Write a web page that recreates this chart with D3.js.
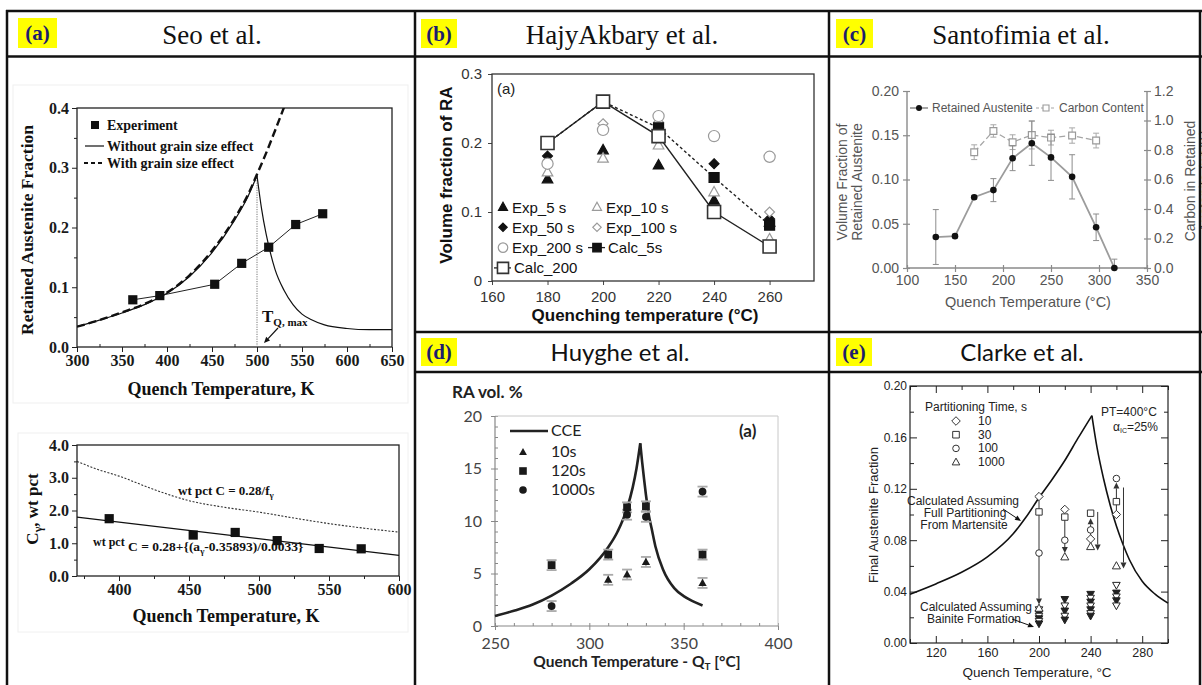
<!DOCTYPE html>
<html>
<head>
<meta charset="utf-8">
<script src="https://cdn.jsdelivr.net/npm/d3@7/dist/d3.min.js"></script>
<style>
  html, body { margin: 0; padding: 0; background: #fff; }
  svg { display: block; }
</style>
</head>
<body>
<svg id="fig" width="1202" height="685"></svg>
<script>
const SERIF = '"Liberation Serif","Times New Roman",Times,serif';
const SANS = '"Liberation Sans",Arial,Helvetica,sans-serif';
const CALI = 'Lato,"Open Sans",sans-serif';

// ---------- (a) Seo et al. : retained austenite fraction ----------
const seoRiseT = [300, 325, 350, 375, 400, 425, 450, 475, 490, 500];
const seoRiseF = [0.034, 0.045, 0.057, 0.071, 0.090, 0.118, 0.158, 0.212, 0.252, 0.287];
const seoFallT = [500, 505, 510, 515, 520, 530, 540, 550, 560, 575, 600, 625, 650];
const seoFallF = [0.287, 0.232, 0.190, 0.157, 0.130, 0.095, 0.071, 0.055, 0.046, 0.037, 0.031, 0.029, 0.029];
const seoGrainT = [300, 325, 350, 375, 400, 425, 450, 475, 490, 500, 510, 520, 531];
const seoGrainF = [0.034, 0.045, 0.058, 0.072, 0.091, 0.120, 0.161, 0.215, 0.255, 0.289, 0.324, 0.362, 0.405];
const seoExpT = [362, 392, 453, 483, 513, 543, 573];
const seoExpF = [0.079, 0.086, 0.105, 0.140, 0.167, 0.205, 0.223];
const seoXTicks = [300, 350, 400, 450, 500, 550, 600, 650];
const seoXMinor = [325, 375, 425, 475, 525, 575, 625];
const seoYTicks = [0, 0.1, 0.2, 0.3, 0.4];
const seoYMinor = [0.05, 0.15, 0.25, 0.35];

// ---------- (a) Seo et al. : carbon in austenite ----------
const seoCarbT = [370, 385, 400, 425, 450, 475, 500, 525, 550, 575, 600];
const seoCarbMass = [3.50, 3.25, 3.05, 2.64, 2.30, 2.10, 1.95, 1.77, 1.60, 1.46, 1.34];
const seoFitT = [370, 600];
const seoFitC = [1.80, 0.63];
const seoCExpT = [393, 453, 483, 513, 543, 573];
const seoCExpC = [1.75, 1.25, 1.33, 1.08, 0.84, 0.83];
const seoCXTicks = [400, 450, 500, 550, 600];
const seoCXMinor = [375, 425, 475, 525, 575];
const seoCYTicks = [0, 1, 2, 3, 4];
const seoCYMinor = [0.5, 1.5, 2.5, 3.5];

// ---------- (b) HajyAkbary et al. ----------
const hajyT = [180, 200, 220, 240, 260];
const hajyExp5 = [0.148, 0.190, 0.168, 0.117, 0.085];
const hajyExp10 = [0.158, 0.178, 0.197, 0.129, 0.061];
const hajyExp50 = [0.181, 0.220, 0.222, 0.170, 0.090];
const hajyExp100 = [0.170, 0.228, 0.230, 0.210, 0.100];
const hajyExp200 = [0.170, 0.219, 0.239, 0.210, 0.180];
const hajyCalc5 = [0.200, 0.260, 0.222, 0.150, 0.081];
const hajyCalc200 = [0.200, 0.260, 0.210, 0.100, 0.050];
const hajyXTicks = [160, 180, 200, 220, 240, 260];
const hajyYTicks = [0, 0.1, 0.2, 0.3];

// ---------- (c) Santofimia et al. ----------
const santT = [130, 150, 170, 190, 210, 230, 250, 272, 297, 316];
const santRA = [0.035, 0.036, 0.080, 0.088, 0.124, 0.141, 0.125, 0.103, 0.046, 0.000];
const santRAErr = [0.031, 0.002, 0.002, 0.013, 0.014, 0.025, 0.026, 0.025, 0.015, 0.010];
const santCT = [170, 190, 210, 230, 250, 272, 297];
const santC = [0.785, 0.929, 0.853, 0.902, 0.884, 0.898, 0.864];
const santCErr = [0.050, 0.042, 0.050, 0.095, 0.050, 0.052, 0.050];
const santXTicks = [100, 150, 200, 250, 300, 350];
const santYTicks = [0, 0.05, 0.10, 0.15, 0.20];
const santY2Ticks = [0, 0.2, 0.4, 0.6, 0.8, 1.0, 1.2];

// ---------- (d) Huyghe et al. ----------
const cceRiseT = [250, 260, 270, 280, 290, 300, 310, 315, 320, 323, 325, 327];
const cceRiseV = [0.95, 1.45, 2.05, 2.9, 4.0, 5.4, 7.5, 9.0, 11.2, 13.2, 15.0, 17.4];
const cceFallT = [327, 328, 329, 330, 331.5, 333, 335, 339, 345, 350, 355, 360];
const cceFallV = [17.4, 15.6, 14.0, 12.5, 10.6, 9.3, 7.6, 5.4, 3.6, 2.85, 2.35, 1.95];
const huy10T = [310, 320, 330, 360];
const huy10V = [4.4, 4.9, 6.1, 4.1];
const huy120T = [280, 310, 320, 330, 360];
const huy120V = [5.8, 6.8, 11.3, 11.4, 6.8];
const huy1000T = [280, 320, 330, 360];
const huy1000V = [1.9, 10.6, 10.4, 12.8];
const huyXTicks = [250, 300, 350, 400];
const huyYTicks = [0, 5, 10, 15, 20];

// ---------- (e) Clarke et al. ----------
const clarkeRiseT = [100, 120, 140, 160, 180, 190, 200, 210, 220, 230, 241];
const clarkeRiseV = [0.038, 0.046, 0.055, 0.067, 0.085, 0.098, 0.113, 0.127, 0.142, 0.159, 0.177];
const clarkeFallT = [241, 245, 250, 255, 260, 265, 270, 280, 290, 300];
const clarkeFallV = [0.177, 0.152, 0.128, 0.108, 0.091, 0.077, 0.065, 0.048, 0.038, 0.031];
const clarkeT = [200, 220, 240, 260];
const clarke10 = [0.114, 0.104, 0.081, 0.100];
const clarke30 = [0.102, 0.098, 0.101, 0.110];
const clarke100 = [0.070, 0.080, 0.088, 0.128];
const clarke1000 = [0.027, 0.067, 0.075, 0.060];
// arrows: [temperature, start, end]
const clarkeArrows = [[200, 0.114, 0.030], [220, 0.098, 0.070], [240, 0.075, 0.097],
                      [260, 0.100, 0.125], [245.5, 0.102, 0.072], [265.5, 0.121, 0.058]];
// bainite estimates: [temperature, fraction, filled]
const clarkeBainite = [
  [200, 0.026, 0], [200, 0.023, 1], [200, 0.021, 0], [200, 0.019, 1], [200, 0.017, 0], [200, 0.015, 1],
  [220, 0.034, 1], [220, 0.029, 0], [220, 0.025, 1], [220, 0.021, 0], [220, 0.018, 1],
  [240, 0.038, 1], [240, 0.035, 0], [240, 0.032, 1], [240, 0.029, 0], [240, 0.026, 1], [240, 0.023, 0], [240, 0.021, 1],
  [260, 0.045, 0], [260, 0.039, 1], [260, 0.036, 0], [260, 0.033, 1], [260, 0.029, 0]
];
const clarkeXTicks = [120, 160, 200, 240, 280];
const clarkeXMinor = [100, 140, 180, 220, 260, 300];
const clarkeYTicks = [0, 0.04, 0.08, 0.12, 0.16, 0.20];
const clarkeYMinor = [0.02, 0.06, 0.10, 0.14, 0.18];

const zip = (a, b) => a.map((v, i) => [v, b[i]]);

const svg = d3.select('#fig');
svg.append('rect').attr('width', 1202).attr('height', 685).attr('fill', '#fff');
const defs = svg.append('defs');

function clip(id, x, y, w, h) {
  defs.append('clipPath').attr('id', id).append('rect')
    .attr('x', x).attr('y', y).attr('width', w).attr('height', h);
  return `url(#${id})`;
}

function txt(g, x, y, s, o = {}) {
  const t = g.append('text').attr('x', x).attr('y', y)
    .attr('font-family', o.ff || SANS).attr('font-size', o.fs || 12)
    .attr('fill', o.fill || '#111').attr('text-anchor', o.anchor || 'start');
  if (o.fw) t.attr('font-weight', o.fw);
  if (o.rot) t.attr('transform', `rotate(${o.rot},${x},${y})`);
  if (typeof s === 'string') t.text(s);
  else s.forEach(p => {
    const ts = t.append('tspan').text(p.t);
    if (p.fs) ts.attr('font-size', p.fs);
    if (p.dy) ts.attr('dy', p.dy);
  });
  return t;
}

function shape(type, r) {
  switch (type) {
    case 'square': return `M${-r},${-r}H${r}V${r}H${-r}Z`;
    case 'diamond': { const q = r * 1.3; return `M0,${-q}L${q},0L0,${q}L${-q},0Z`; }
    case 'triUp': return `M0,${-r * 1.2}L${r * 1.15},${r * 0.85}L${-r * 1.15},${r * 0.85}Z`;
    case 'triDown': return `M0,${r * 1.2}L${r * 1.15},${-r * 0.85}L${-r * 1.15},${-r * 0.85}Z`;
    default: return `M${r},0A${r},${r} 0 1,1 ${-r},0A${r},${r} 0 1,1 ${r},0Z`;
  }
}

function mark(g, type, x, y, r, fill, stroke, sw) {
  return g.append('path').attr('d', shape(type, r))
    .attr('transform', `translate(${x},${y})`)
    .attr('fill', fill).attr('stroke', stroke || 'none').attr('stroke-width', sw || 1);
}

function drawAxis(g, gen, tr, st) {
  const a = g.append('g').attr('transform', tr).call(gen);
  a.select('.domain').remove();
  a.selectAll('.tick line').attr('stroke', st.stroke || '#111').attr('stroke-width', st.sw || 1);
  a.selectAll('.tick text').attr('font-family', st.ff || SANS).attr('font-size', st.fs || 12)
    .attr('font-weight', st.fw || 'normal').attr('fill', st.fill || '#111');
  return a;
}

function arrow(g, x1, y1, x2, y2, o = {}) {
  const len = o.len || 7, wid = o.wid || 3, c = o.c || '#111';
  const ang = Math.atan2(y2 - y1, x2 - x1);
  const bx = x2 - len * Math.cos(ang), by = y2 - len * Math.sin(ang);
  g.append('line').attr('x1', x1).attr('y1', y1).attr('x2', bx).attr('y2', by)
    .attr('stroke', c).attr('stroke-width', o.sw || 1);
  const px = -Math.sin(ang) * wid, py = Math.cos(ang) * wid;
  g.append('path').attr('d', `M${x2},${y2}L${bx + px},${by + py}L${bx - px},${by - py}Z`).attr('fill', c);
}

// ======================= (a) upper chart =======================
{
  const g = svg.append('g');
  const x = d3.scaleLinear().domain([300, 650]).range([77, 392]);
  const y = d3.scaleLinear().domain([0, 0.4]).range([347, 108]);
  g.append('rect').attr('x', 13).attr('y', 85).attr('width', 395).attr('height', 318)
    .attr('fill', 'none').attr('stroke', '#efefef');
  const st = { ff: SERIF, fs: 16, fw: 'bold', fill: '#1a1a1a', stroke: '#222' };
  drawAxis(g, d3.axisBottom(x).tickValues(seoXTicks).tickSize(5).tickPadding(3).tickFormat(d3.format('d')), 'translate(0,347)', st);
  drawAxis(g, d3.axisBottom(x).tickValues(seoXMinor).tickSize(-3).tickFormat(''), 'translate(0,347)', st);
  drawAxis(g, d3.axisLeft(y).tickValues(seoYTicks).tickSize(5).tickPadding(3).tickFormat(d3.format('.1f')), 'translate(77,0)', st);
  drawAxis(g, d3.axisLeft(y).tickValues(seoYMinor).tickSize(3).tickFormat(''), 'translate(77,0)', st);
  g.append('rect').attr('x', 77).attr('y', 108).attr('width', 315).attr('height', 239)
    .attr('fill', 'none').attr('stroke', '#222').attr('stroke-width', 1.3);
  const cp = clip('clipSeoA', 77, 108, 315, 239);
  const curve = d3.line().x(d => x(d[0])).y(d => y(d[1])).curve(d3.curveMonotoneX);
  const straight = d3.line().x(d => x(d[0])).y(d => y(d[1]));

  g.append('line').attr('x1', x(500)).attr('x2', x(500)).attr('y1', y(0)).attr('y2', y(seoRiseF[seoRiseF.length - 1]))
    .attr('stroke', '#777').attr('stroke-width', 1).attr('stroke-dasharray', '1.2,1.2');
  g.append('path').datum(zip(seoGrainT, seoGrainF)).attr('d', curve).attr('clip-path', cp)
    .attr('fill', 'none').attr('stroke', '#111').attr('stroke-width', 2.4).attr('stroke-dasharray', '8,4');
  g.append('path').datum(zip(seoRiseT, seoRiseF)).attr('d', curve).attr('clip-path', cp)
    .attr('fill', 'none').attr('stroke', '#111').attr('stroke-width', 1.2);
  g.append('path').datum(zip(seoFallT, seoFallF)).attr('d', curve).attr('clip-path', cp)
    .attr('fill', 'none').attr('stroke', '#111').attr('stroke-width', 1.2);
  g.append('path').datum(zip(seoExpT, seoExpF)).attr('d', straight)
    .attr('fill', 'none').attr('stroke', '#222').attr('stroke-width', 1);
  seoExpT.forEach((t, i) => mark(g, 'square', x(t), y(seoExpF[i]), 4.6, '#111'));

  // legend
  mark(g, 'square', 95, 125, 4, '#111');
  txt(g, 107, 130, 'Experiment', { ff: SERIF, fs: 14, fw: 'bold' });
  g.append('line').attr('x1', 85).attr('x2', 104).attr('y1', 146).attr('y2', 146).attr('stroke', '#111').attr('stroke-width', 1.2);
  txt(g, 107, 151, 'Without grain size effect', { ff: SERIF, fs: 14, fw: 'bold' });
  g.append('line').attr('x1', 84).attr('x2', 105).attr('y1', 163).attr('y2', 163).attr('stroke', '#111')
    .attr('stroke-width', 2).attr('stroke-dasharray', '4,3');
  txt(g, 107, 168, 'With grain size effect', { ff: SERIF, fs: 14, fw: 'bold' });

  txt(g, 262, 322, [{ t: 'T' }, { t: 'Q, max', fs: 11, dy: 4 }], { ff: SERIF, fs: 17, fw: 'bold' });
  arrow(g, 278, 328, 264, 343, { len: 6, wid: 2.6, sw: 1.2 });

  txt(g, 33, 230, 'Retained Austenite Fraction', { ff: SERIF, fs: 17.5, fw: 'bold', anchor: 'middle', rot: -90 });
  txt(g, 221, 395, 'Quench Temperature, K', { ff: SERIF, fs: 18, fw: 'bold', anchor: 'middle' });
}

// ======================= (a) lower chart =======================
{
  const g = svg.append('g');
  const x = d3.scaleLinear().domain([370, 600]).range([77, 399]);
  const y = d3.scaleLinear().domain([0, 4]).range([576, 445]);
  g.append('rect').attr('x', 18).attr('y', 433).attr('width', 390).attr('height', 199)
    .attr('fill', 'none').attr('stroke', '#f0f0f0');
  const st = { ff: SERIF, fs: 16, fw: 'bold', fill: '#1a1a1a', stroke: '#222' };
  drawAxis(g, d3.axisBottom(x).tickValues(seoCXTicks).tickSize(5).tickPadding(3).tickFormat(d3.format('d')), 'translate(0,576)', st);
  drawAxis(g, d3.axisBottom(x).tickValues(seoCXMinor).tickSize(3).tickFormat(''), 'translate(0,576)', st);
  drawAxis(g, d3.axisLeft(y).tickValues(seoCYTicks).tickSize(5).tickPadding(3).tickFormat(d3.format('.1f')), 'translate(77,0)', st);
  drawAxis(g, d3.axisLeft(y).tickValues(seoCYMinor).tickSize(3).tickFormat(''), 'translate(77,0)', st);
  g.append('rect').attr('x', 77).attr('y', 445).attr('width', 322).attr('height', 131)
    .attr('fill', 'none').attr('stroke', '#222').attr('stroke-width', 1.3);
  const curve = d3.line().x(d => x(d[0])).y(d => y(d[1])).curve(d3.curveMonotoneX);
  const straight = d3.line().x(d => x(d[0])).y(d => y(d[1]));
  g.append('path').datum(zip(seoCarbT, seoCarbMass)).attr('d', curve)
    .attr('fill', 'none').attr('stroke', '#333').attr('stroke-width', 1.1).attr('stroke-dasharray', '2,1.6');
  g.append('path').datum(zip(seoFitT, seoFitC)).attr('d', straight)
    .attr('fill', 'none').attr('stroke', '#111').attr('stroke-width', 1.3);
  seoCExpT.forEach((t, i) => mark(g, 'square', x(t), y(seoCExpC[i]), 4.6, '#111'));

  txt(g, 178, 495, [{ t: 'wt pct C = 0.28/f' }, { t: 'γ', fs: 9, dy: 3 }], { ff: SERIF, fs: 13, fw: 'bold' });
  txt(g, 93, 551, [{ t: 'wt pct', fs: 12, dy: -5 }, { t: ' C = 0.28+{(a', fs: 13.5, dy: 5 }, { t: 'γ', fs: 9, dy: 3 },
                   { t: '-0.35893)/0.0033}', fs: 13.5, dy: -3 }], { ff: SERIF, fs: 13.5, fw: 'bold' });

  txt(g, 38, 509, [{ t: 'C' }, { t: 'γ', fs: 12, dy: 4 }, { t: ', wt pct', dy: -4 }],
      { ff: SERIF, fs: 17, fw: 'bold', anchor: 'middle', rot: -90 });
  txt(g, 226, 622, 'Quench Temperature, K', { ff: SERIF, fs: 18, fw: 'bold', anchor: 'middle' });
}

// ======================= (b) HajyAkbary =======================
{
  const g = svg.append('g');
  const x = d3.scaleLinear().domain([160, 276]).range([492, 814]);
  const y = d3.scaleLinear().domain([0, 0.3]).range([281, 74]);
  const st = { ff: SANS, fs: 15, fill: '#333', stroke: '#444' };
  drawAxis(g, d3.axisBottom(x).tickValues(hajyXTicks).tickSize(4).tickPadding(6).tickFormat(d3.format('d')), 'translate(0,281)', st);
  drawAxis(g, d3.axisLeft(y).tickValues(hajyYTicks).tickSize(4).tickPadding(6).tickFormat(d => d === 0 ? '0' : d3.format('.1f')(d)), 'translate(492,0)', st);
  g.append('rect').attr('x', 492).attr('y', 74).attr('width', 322).attr('height', 207)
    .attr('fill', 'none').attr('stroke', '#333').attr('stroke-width', 1.3);
  const straight = d3.line().x(d => x(d[0])).y(d => y(d[1]));

  const series = [
    { name: 'Exp_5 s', v: hajyExp5, shape: 'triUp', r: 4.6, fill: '#111', stroke: '#111' },
    { name: 'Exp_10 s', v: hajyExp10, shape: 'triUp', r: 4.6, fill: '#fff', stroke: '#9a9a9a' },
    { name: 'Exp_50 s', v: hajyExp50, shape: 'diamond', r: 3.8, fill: '#111', stroke: '#111' },
    { name: 'Exp_100 s', v: hajyExp100, shape: 'diamond', r: 3.8, fill: '#fff', stroke: '#9a9a9a' },
    { name: 'Exp_200 s', v: hajyExp200, shape: 'circle', r: 5.6, fill: '#fff', stroke: '#9a9a9a' },
    { name: 'Calc_5s', v: hajyCalc5, shape: 'square', r: 5, fill: '#111', stroke: '#111', line: '3,2.5' },
    { name: 'Calc_200', v: hajyCalc200, shape: 'square', r: 6.5, fill: '#fff', stroke: '#333', line: 'none', sw: 1.6 }
  ];
  series.filter(s => s.line).forEach(s => {
    g.append('path').datum(zip(hajyT, s.v)).attr('d', straight).attr('fill', 'none')
      .attr('stroke', '#222').attr('stroke-width', 1.4).attr('stroke-dasharray', s.line);
  });
  series.forEach(s => hajyT.forEach((t, i) => mark(g, s.shape, x(t), y(s.v[i]), s.r, s.fill, s.stroke, s.sw || 1.2)));

  // legend
  series.forEach((s, i) => {
    const col = i % 2, row = Math.floor(i / 2);
    const mx = [503, 597][col], tx = [512, 606][col], cy = 207 + row * 20.3;
    if (s.line) g.append('line').attr('x1', mx - 9).attr('x2', mx + 8).attr('y1', cy).attr('y2', cy)
      .attr('stroke', '#222').attr('stroke-width', 1.3);
    mark(g, s.shape, mx, cy, s.r * 0.85, s.fill, s.stroke, s.sw || 1.2);
    txt(g, tx + (s.line ? 2 : 0), cy + 5.5, s.name, { ff: SANS, fs: 15, fill: '#111' });
  });
  txt(g, 497, 94, '(a)', { ff: SANS, fs: 15, fill: '#222' });
  txt(g, 452, 175, 'Volume fraction of RA', { ff: SANS, fs: 17, fw: 'bold', anchor: 'middle', rot: -90 });
  txt(g, 645, 321, 'Quenching temperature (°C)', { ff: SANS, fs: 17, fw: 'bold', anchor: 'middle' });
}

// ======================= (c) Santofimia =======================
{
  const g = svg.append('g');
  const x = d3.scaleLinear().domain([100, 350]).range([907, 1147]);
  const y = d3.scaleLinear().domain([0, 0.2]).range([268, 91]);
  const y2 = d3.scaleLinear().domain([0, 1.2]).range([268, 91]);
  const gray = '#8a8a8a';
  const st = { ff: SANS, fs: 14, fill: '#555', stroke: gray, sw: 1.2 };
  const ax = drawAxis(g, d3.axisBottom(x).tickValues(santXTicks).tickSize(4).tickPadding(3).tickFormat(d3.format('d')), 'translate(0,268)', st);
  ax.selectAll('.tick line').attr('y1', -3);
  const al = drawAxis(g, d3.axisLeft(y).tickValues(santYTicks).tickSize(4).tickPadding(4).tickFormat(d3.format('.2f')), 'translate(907,0)', st);
  al.selectAll('.tick line').attr('x1', 3);
  const ar = drawAxis(g, d3.axisRight(y2).tickValues(santY2Ticks).tickSize(4).tickPadding(3).tickFormat(d3.format('.1f')), 'translate(1147,0)', st);
  ar.selectAll('.tick line').attr('x1', -3);
  [[907, 91, 907, 268], [1147, 91, 1147, 268], [907, 268, 1147, 268]].forEach(l =>
    g.append('line').attr('x1', l[0]).attr('y1', l[1]).attr('x2', l[2]).attr('y2', l[3]).attr('stroke', gray).attr('stroke-width', 1.4));

  const lineL = d3.line().x(d => x(d[0])).y(d => y(d[1]));
  const lineR = d3.line().x(d => x(d[0])).y(d => y2(d[1]));
  const eb = (cx, lo, hi, c) => {
    g.append('line').attr('x1', cx).attr('x2', cx).attr('y1', lo).attr('y2', hi).attr('stroke', c).attr('stroke-width', 1);
    [lo, hi].forEach(v => g.append('line').attr('x1', cx - 3).attr('x2', cx + 3).attr('y1', v).attr('y2', v).attr('stroke', c).attr('stroke-width', 1));
  };
  // carbon content
  santCT.forEach((t, i) => eb(x(t), y2(santC[i] - santCErr[i]), y2(santC[i] + santCErr[i]), '#a8a8a8'));
  g.append('path').datum(zip(santCT, santC)).attr('d', lineR).attr('fill', 'none')
    .attr('stroke', '#a5a5a5').attr('stroke-width', 1.3).attr('stroke-dasharray', '6,3');
  santCT.forEach((t, i) => mark(g, 'square', x(t), y2(santC[i]), 3.4, '#fff', '#9a9a9a', 1.2));
  // retained austenite
  santT.forEach((t, i) => eb(x(t), y(Math.max(0, santRA[i] - santRAErr[i])), y(santRA[i] + santRAErr[i]), '#8c8c8c'));
  g.append('path').datum(zip(santT, santRA)).attr('d', lineL).attr('fill', 'none')
    .attr('stroke', '#9c9c9c').attr('stroke-width', 1.8);
  santT.forEach((t, i) => mark(g, 'circle', x(t), y(santRA[i]), 3.3, '#111'));

  // legend
  g.append('line').attr('x1', 910).attr('x2', 928).attr('y1', 108).attr('y2', 108).attr('stroke', '#9c9c9c').attr('stroke-width', 1.8);
  mark(g, 'circle', 919, 108, 3, '#111');
  txt(g, 932, 112, 'Retained Austenite', { ff: SANS, fs: 12, fill: '#555' });
  g.append('line').attr('x1', 1036).attr('x2', 1056).attr('y1', 108).attr('y2', 108).attr('stroke', '#a5a5a5')
    .attr('stroke-width', 1.2).attr('stroke-dasharray', '3,2');
  mark(g, 'square', 1046, 108, 3, '#fff', '#9a9a9a', 1.1);
  txt(g, 1059, 112, 'Carbon Content', { ff: SANS, fs: 12, fill: '#555' });

  txt(g, 847, 182, 'Volume Fraction of', { ff: SANS, fs: 14, fill: '#555', anchor: 'middle', rot: -90 });
  txt(g, 862, 182, 'Retained Austenite', { ff: SANS, fs: 14, fill: '#555', anchor: 'middle', rot: -90 });
  txt(g, 1195, 181, 'Carbon in Retained', { ff: SANS, fs: 14, fill: '#555', anchor: 'middle', rot: -90 });
  // second title line runs past the panel's right edge
  txt(g, 1210, 181, 'Austenite (wt.%)', { ff: SANS, fs: 14, fill: '#555', anchor: 'middle', rot: -90 });
  txt(g, 1028, 307, 'Quench Temperature (°C)', { ff: SANS, fs: 14.5, fill: '#555', anchor: 'middle' });
}

// ======================= (d) Huyghe =======================
{
  const g = svg.append('g');
  const x = d3.scaleLinear().domain([250, 400]).range([495, 778]);
  const y = d3.scaleLinear().domain([0, 20]).range([626, 416]);
  const st = { ff: CALI, fs: 16, fill: '#444', stroke: '#888' };
  drawAxis(g, d3.axisBottom(x).tickValues(huyXTicks).tickSize(4).tickPadding(8).tickFormat(d3.format('d')), 'translate(0,626)', st);
  drawAxis(g, d3.axisBottom(x).ticks(15).tickSize(-3).tickFormat(''), 'translate(0,626)', st);
  drawAxis(g, d3.axisLeft(y).tickValues(huyYTicks).tickSize(4).tickPadding(9).tickFormat(d3.format('d')), 'translate(495,0)', st);
  drawAxis(g, d3.axisLeft(y).ticks(20).tickSize(-3).tickFormat(''), 'translate(495,0)', st);
  g.append('line').attr('x1', 495).attr('x2', 778).attr('y1', 416).attr('y2', 416).attr('stroke', '#c8c8c8');
  g.append('line').attr('x1', 778).attr('x2', 778).attr('y1', 416).attr('y2', 626).attr('stroke', '#c8c8c8');
  g.append('line').attr('x1', 495).attr('x2', 778).attr('y1', 626).attr('y2', 626).attr('stroke', '#888').attr('stroke-width', 1.2);
  g.append('line').attr('x1', 495).attr('x2', 495).attr('y1', 416).attr('y2', 626).attr('stroke', '#888').attr('stroke-width', 1.2);

  const curve = d3.line().x(d => x(d[0])).y(d => y(d[1])).curve(d3.curveMonotoneX);
  g.append('path').datum(zip(cceRiseT, cceRiseV)).attr('d', curve).attr('fill', 'none').attr('stroke', '#222').attr('stroke-width', 2.6);
  g.append('path').datum(zip(cceFallT, cceFallV)).attr('d', curve).attr('fill', 'none').attr('stroke', '#222').attr('stroke-width', 2.6);

  const errBar = (cx, cy) => {
    const lo = cy + 5, hi = cy - 5;
    g.append('line').attr('x1', cx).attr('x2', cx).attr('y1', lo).attr('y2', hi).attr('stroke', '#aaa').attr('stroke-width', 1.5);
    [lo, hi].forEach(v => g.append('line').attr('x1', cx - 5).attr('x2', cx + 5).attr('y1', v).attr('y2', v).attr('stroke', '#aaa').attr('stroke-width', 1.8));
  };
  const sets = [[huy120T, huy120V, 'square'], [huy1000T, huy1000V, 'circle'], [huy10T, huy10V, 'triUp']];
  sets.forEach(([ts, vs, sh]) => ts.forEach((t, i) => errBar(x(t), y(vs[i]))));
  sets.forEach(([ts, vs, sh]) => ts.forEach((t, i) => mark(g, sh, x(t), y(vs[i]), sh === 'triUp' ? 3.6 : 3.9, '#1a1a1a')));

  // legend
  g.append('line').attr('x1', 510).attr('x2', 548).attr('y1', 431).attr('y2', 431).attr('stroke', '#222').attr('stroke-width', 2.6);
  txt(g, 551, 436, 'CCE', { ff: CALI, fs: 16, fill: '#222' });
  mark(g, 'triUp', 523, 452, 3.4, '#1a1a1a');
  txt(g, 551, 457, '10s', { ff: CALI, fs: 16, fill: '#222' });
  mark(g, 'square', 523, 471, 3.8, '#1a1a1a');
  txt(g, 551, 476, '120s', { ff: CALI, fs: 16, fill: '#222' });
  mark(g, 'circle', 523, 490, 3.8, '#1a1a1a');
  txt(g, 551, 495, '1000s', { ff: CALI, fs: 16, fill: '#222' });
  txt(g, 739, 437, '(a)', { ff: CALI, fs: 17, fw: 'bold', fill: '#222' });

  txt(g, 452, 398, 'RA vol. %', { ff: CALI, fs: 17, fw: 'bold', fill: '#222' });
  txt(g, 637, 667, [{ t: 'Quench Temperature - Q' }, { t: 'T', fs: 10, dy: 3 }, { t: ' [°C]', dy: -3 }],
      { ff: CALI, fs: 15.5, fw: 'bold', fill: '#222', anchor: 'middle' });
}

// ======================= (e) Clarke =======================
{
  const g = svg.append('g');
  const x = d3.scaleLinear().domain([100, 300]).range([910, 1168]);
  const y = d3.scaleLinear().domain([0, 0.2]).range([643, 386]);
  const st = { ff: SANS, fs: 12.5, fill: '#222', stroke: '#222' };
  drawAxis(g, d3.axisBottom(x).tickValues(clarkeXTicks).tickSize(-7).tickPadding(5).tickFormat(d3.format('d')), 'translate(0,643)', st);
  drawAxis(g, d3.axisBottom(x).tickValues(clarkeXMinor).tickSize(-4).tickFormat(''), 'translate(0,643)', st);
  drawAxis(g, d3.axisTop(x).tickValues(clarkeXTicks).tickSize(-7).tickFormat(''), 'translate(0,386)', st);
  drawAxis(g, d3.axisTop(x).tickValues(clarkeXMinor).tickSize(-4).tickFormat(''), 'translate(0,386)', st);
  const yl = drawAxis(g, d3.axisLeft(y).tickValues(clarkeYTicks).tickSize(-7).tickPadding(3).tickFormat(d3.format('.2f')), 'translate(910,0)', st);
  yl.selectAll('.tick text').attr('font-size', 12);
  drawAxis(g, d3.axisLeft(y).tickValues(clarkeYMinor).tickSize(-4).tickFormat(''), 'translate(910,0)', st);
  drawAxis(g, d3.axisRight(y).tickValues(clarkeYTicks).tickSize(-7).tickFormat(''), 'translate(1168,0)', st);
  drawAxis(g, d3.axisRight(y).tickValues(clarkeYMinor).tickSize(-4).tickFormat(''), 'translate(1168,0)', st);
  g.append('rect').attr('x', 910).attr('y', 386).attr('width', 258).attr('height', 257)
    .attr('fill', 'none').attr('stroke', '#222').attr('stroke-width', 1.2);

  const curve = d3.line().x(d => x(d[0])).y(d => y(d[1])).curve(d3.curveMonotoneX);
  g.append('path').datum(zip(clarkeRiseT, clarkeRiseV)).attr('d', curve).attr('fill', 'none').attr('stroke', '#111').attr('stroke-width', 1.6);
  g.append('path').datum(zip(clarkeFallT, clarkeFallV)).attr('d', curve).attr('fill', 'none').attr('stroke', '#111').attr('stroke-width', 1.6);

  const dark = '#333';
  clarkeArrows.forEach(([t, a, b]) => arrow(g, x(t), y(a), x(t), y(b), { len: 6, wid: 3, c: dark, sw: 1 }));
  clarkeBainite.forEach(([t, v, f]) => mark(g, 'triDown', x(t), y(v), 3.3, f ? '#222' : '#fff', '#222', 1));
  clarkeT.forEach((t, i) => {
    mark(g, 'triUp', x(t), y(clarke1000[i]), 3.5, '#fff', dark, 1);
    mark(g, 'circle', x(t), y(clarke100[i]), 3.3, '#fff', dark, 1);
    mark(g, 'square', x(t), y(clarke30[i]), 3.2, '#fff', dark, 1);
    mark(g, 'diamond', x(t), y(clarke10[i]), 3.2, '#fff', dark, 1);
  });

  // legend
  txt(g, 925, 411, 'Partitioning Time, s', { ff: SANS, fs: 12, fill: '#222' });
  const legShapes = ['diamond', 'square', 'circle', 'triUp'];
  const legNames = ['10', '30', '100', '1000'];
  legShapes.forEach((sh, i) => {
    const cy = 421 + i * 13.7;
    mark(g, sh, 956, cy, 3.3, '#fff', dark, 1);
    txt(g, 978, cy + 4, legNames[i], { ff: SANS, fs: 12, fill: '#222' });
  });
  txt(g, 1101, 416, 'PT=400°C', { ff: SANS, fs: 12, fill: '#222' });
  txt(g, 1113, 431, [{ t: 'α' }, { t: 'IC', fs: 7, dy: 2 }, { t: '=25%', dy: -2 }], { ff: SANS, fs: 12, fill: '#222' });

  const ann = { ff: SANS, fs: 12, fill: '#222', anchor: 'middle' };
  txt(g, 963, 505, 'Calculated Assuming', ann);
  txt(g, 965, 517, 'Full Partitioning', ann);
  txt(g, 964, 529, 'From Martensite', ann);
  arrow(g, 1003, 509, 1021, 521, { len: 6, wid: 2.5, sw: 1 });
  txt(g, 976, 611, 'Calculated Assuming', ann);
  txt(g, 974, 623, 'Bainite Formation', ann);
  arrow(g, 1012, 619, 1034, 627, { len: 6, wid: 2.5, sw: 1 });

  txt(g, 878, 515, 'Final Austenite Fraction', { ff: SANS, fs: 13, fill: '#222', anchor: 'middle', rot: -90 });
  txt(g, 1037, 677, 'Quench Temperature, °C', { ff: SANS, fs: 13.5, fill: '#222', anchor: 'middle' });
}

// ======================= table frame and headers =======================
{
  const g = svg.append('g');
  const L = (x1, y1, x2, y2) => g.append('line').attr('x1', x1).attr('y1', y1).attr('x2', x2).attr('y2', y2)
    .attr('stroke', '#111').attr('stroke-width', 2.5);
  L(6, 11, 1202, 11);
  L(6, 56.5, 1202, 56.5);
  L(415, 332, 1202, 332);
  L(415, 372, 1202, 372);
  L(7, 10, 7, 685);
  L(415, 10, 415, 685);
  L(829, 10, 829, 685);
  L(1200, 10, 1200, 685);

  const badge = (x, y, w, h, s) => {
    g.append('rect').attr('x', x).attr('y', y).attr('width', w).attr('height', h).attr('fill', '#ffff00');
    txt(g, x + w / 2, y + h / 2 + 7, s, { ff: SERIF, fs: 21, fw: 'bold', fill: '#1d1d6e', anchor: 'middle' });
  };
  badge(18, 18, 39, 30, '(a)');
  badge(421, 19, 36, 29, '(b)');
  badge(836, 19, 37, 29, '(c)');
  badge(421, 338, 36, 28, '(d)');
  badge(836, 338, 36, 28, '(e)');

  txt(g, 212, 44, 'Seo et al.', { ff: SERIF, fs: 27, fill: '#111', anchor: 'middle' });
  txt(g, 622, 44, 'HajyAkbary et al.', { ff: SERIF, fs: 27, fill: '#111', anchor: 'middle' });
  txt(g, 1021, 44, 'Santofimia et al.', { ff: SERIF, fs: 27, fill: '#111', anchor: 'middle' });
  txt(g, 620, 361, 'Huyghe et al.', { ff: CALI, fs: 24, fill: '#111', anchor: 'middle' });
  txt(g, 1022, 361, 'Clarke et al.', { ff: CALI, fs: 24, fill: '#111', anchor: 'middle' });
}
</script>
</body>
</html>
